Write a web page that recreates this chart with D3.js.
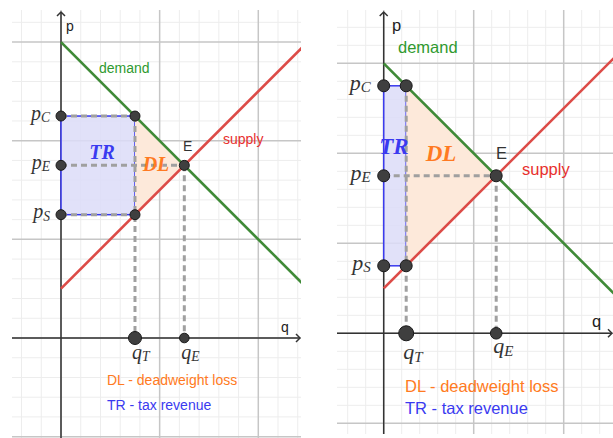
<!DOCTYPE html>
<html>
<head>
<meta charset="utf-8">
<script src="https://cdn.jsdelivr.net/npm/d3@7"></script>
<style>
  body { margin: 0; background: #fff; }
  svg { display: block; }
  text { font-family: "Liberation Sans", Arial, sans-serif; }
  .math { font-family: "Liberation Serif", "Times New Roman", serif; font-style: italic; fill: #333; }
</style>
</head>
<body>
<svg id="chart" width="613" height="438"></svg>
<script>
// lines in grid units: p = intercept + slope * q
const demandLine = [3, -1];
const supplyLine = [0.5, 1];
// quantity traded after the tax, left panel / right panel
const taxQuantities = [0.75, 0.25];
const priceSubs = ["C", "E", "S"];
const quantitySubs = ["T", "E"];
const legendTexts = ["DL - deadweight loss", "TR - tax revenue"];

const colors = {
    demand: "#3f8a37", demandText: "#2f9a2f",
    supply: "#dc4b47", supplyText: "#e8302e",
    tr: "#3a3af0", trFill: "#dcdcf8",
    dl: "#ff7a22", dlFill: "#fde9da",
    dash: "#a0a0a0", point: "#3f3f3f"
};

const panels = [
    { x0: 12, x1: 301, y0: 10, y1: 438, ox: 61, oy: 338, unit: 98.65,
      fs: 14, mfs: 20, tfs: 20, r: 5, rT: 6.5, rE: 4.8, hDash: true,
      demandAt: [99, 73], supplyAt: [223, 144], eAt: [183, 151], pAt: [66, 31], qAt: [281, 332],
      trAt: [102, 159], dlAt: [156, 171], qBase: [359, 359], legendAt: [107, 385, 410] },
    { x0: 337, x1: 613, y0: 10, y1: 434, ox: 383.7, oy: 333.3, unit: 90,
      fs: 16.5, mfs: 22, tfs: 23, r: 6, rT: 7.5, rE: 5.8, hDash: false,
      demandAt: [398, 53], supplyAt: [522, 175], eAt: [496, 159], pAt: [392, 31], qAt: [592, 327],
      trAt: [394, 154], dlAt: [441, 161], qBase: [359, 353], legendAt: [405, 392, 414] }
];

const svg = d3.select("#chart");

const at = (line, q) => line[0] + line[1] * q;

panels.forEach((cfg, i) => {
    const x = d3.scaleLinear().domain([0, 1]).range([cfg.ox, cfg.ox + cfg.unit]);
    const y = d3.scaleLinear().domain([0, 1]).range([cfg.oy, cfg.oy - cfg.unit]);

    const qT = taxQuantities[i];
    const pC = at(demandLine, qT), pS = at(supplyLine, qT);
    const qE = (demandLine[0] - supplyLine[0]) / (supplyLine[1] - demandLine[1]);
    const pE = at(demandLine, qE);

    const clipId = "clip" + i;
    svg.append("clipPath").attr("id", clipId)
        .append("rect")
        .attr("x", cfg.x0).attr("y", cfg.y0)
        .attr("width", cfg.x1 - cfg.x0).attr("height", cfg.y1 - cfg.y0);

    const g = svg.append("g");
    const plot = g.append("g").attr("clip-path", `url(#${clipId})`);

    // grid, minor every 0.2, major every 1
    const step = 0.2;
    const kx = d3.range(Math.ceil(x.invert(cfg.x0) / step), Math.floor(x.invert(cfg.x1) / step) + 1);
    const ky = d3.range(Math.ceil(y.invert(cfg.y1) / step), Math.floor(y.invert(cfg.y0) / step) + 1);
    const grid = plot.append("g");
    [false, true].forEach(major => {
        grid.selectAll(null)
            .data(kx.filter(k => (k % 5 === 0) === major))
            .enter().append("line")
            .attr("x1", k => x(k * step)).attr("x2", k => x(k * step))
            .attr("y1", cfg.y0).attr("y2", cfg.y1)
            .attr("stroke", major ? "#c6c6c6" : "#ededed")
            .attr("stroke-width", major ? 1.5 : 1);
        grid.selectAll(null)
            .data(ky.filter(k => (k % 5 === 0) === major))
            .enter().append("line")
            .attr("y1", k => y(k * step)).attr("y2", k => y(k * step))
            .attr("x1", cfg.x0).attr("x2", cfg.x1)
            .attr("stroke", major ? "#c6c6c6" : "#ededed")
            .attr("stroke-width", major ? 1.5 : 1);
    });

    // axes with open arrow heads
    const axisCol = "#333";
    plot.append("line")
        .attr("x1", cfg.x0).attr("x2", cfg.x1 - 1)
        .attr("y1", y(0)).attr("y2", y(0))
        .attr("stroke", axisCol).attr("stroke-width", 1.5);
    plot.append("line")
        .attr("x1", x(0)).attr("x2", x(0))
        .attr("y1", cfg.y1).attr("y2", cfg.y0 + 2)
        .attr("stroke", axisCol).attr("stroke-width", 1.5);
    plot.append("path")
        .attr("d", `M${cfg.x1 - 5},${y(0) - 4}L${cfg.x1 - 1},${y(0)}L${cfg.x1 - 5},${y(0) + 4}`)
        .attr("fill", "none").attr("stroke", axisCol).attr("stroke-width", 1.5);
    plot.append("path")
        .attr("d", `M${x(0) - 4},${cfg.y0 + 6}L${x(0)},${cfg.y0 + 2}L${x(0) + 4},${cfg.y0 + 6}`)
        .attr("fill", "none").attr("stroke", axisCol).attr("stroke-width", 1.5);

    // tax revenue rectangle and deadweight loss triangle
    plot.append("rect")
        .attr("x", x(0)).attr("y", y(pC))
        .attr("width", x(qT) - x(0)).attr("height", y(pS) - y(pC))
        .attr("fill", colors.trFill).attr("fill-opacity", 0.85)
        .attr("stroke", colors.tr).attr("stroke-width", 1.5);
    plot.append("path")
        .attr("d", d3.line()([[x(qT), y(pC)], [x(qT), y(pS)], [x(qE), y(pE)]]))
        .attr("fill", colors.dlFill);

    // dashed guides
    const dashes = [
        [[qT, pC], [qT, 0]],
        [[0, pE], [qE, pE]],
        [[qE, pE], [qE, 0]]
    ];
    if (cfg.hDash) dashes.push([[0, pC], [qT, pC]], [[0, pS], [qT, pS]]);
    plot.selectAll(null).data(dashes).enter().append("line")
        .attr("x1", d => x(d[0][0])).attr("y1", d => y(d[0][1]))
        .attr("x2", d => x(d[1][0])).attr("y2", d => y(d[1][1]))
        .attr("stroke", colors.dash).attr("stroke-width", 3)
        .attr("stroke-dasharray", "6,4");

    // demand and supply
    const qMax = x.invert(cfg.x1 + 5);
    [[demandLine, colors.demand], [supplyLine, colors.supply]].forEach(([ln, col]) => {
        plot.append("path")
            .attr("d", d3.line().x(d => x(d)).y(d => y(at(ln, d)))([0, qMax]))
            .attr("fill", "none").attr("stroke", col).attr("stroke-width", 2.6);
    });

    // points
    const pts = [
        [0, pC, cfg.r], [qT, pC, cfg.r], [0, pE, cfg.r], [qE, pE, cfg.r],
        [0, pS, cfg.r], [qT, pS, cfg.r], [qT, 0, cfg.rT], [qE, 0, cfg.rE]
    ];
    g.selectAll(null).data(pts).enter().append("circle")
        .attr("cx", d => x(d[0])).attr("cy", d => y(d[1])).attr("r", d => d[2])
        .attr("fill", colors.point).attr("stroke", "#1a1a1a").attr("stroke-width", 1);

    // curve and axis labels
    g.append("text").attr("x", cfg.demandAt[0]).attr("y", cfg.demandAt[1])
        .attr("font-size", cfg.fs).attr("fill", colors.demandText).text("demand");
    g.append("text").attr("x", cfg.supplyAt[0]).attr("y", cfg.supplyAt[1])
        .attr("font-size", cfg.fs).attr("fill", colors.supplyText).text("supply");
    g.append("text").attr("x", cfg.eAt[0]).attr("y", cfg.eAt[1])
        .attr("font-size", cfg.fs).attr("fill", "#333").text("E");
    g.append("text").attr("x", cfg.pAt[0]).attr("y", cfg.pAt[1])
        .attr("font-size", cfg.fs).attr("fill", "#222").text("p");
    g.append("text").attr("x", cfg.qAt[0]).attr("y", cfg.qAt[1])
        .attr("font-size", cfg.fs).attr("fill", "#222").text("q");

    // price labels p_C, p_E, p_S
    [pC, pE, pS].forEach((p, j) => {
        const t = g.append("text").attr("class", "math")
            .attr("x", x(0) - (i === 0 ? 11 : 13)).attr("y", y(p) + cfg.mfs * 0.18)
            .attr("text-anchor", "end").attr("font-size", cfg.mfs);
        t.append("tspan").text("p");
        t.append("tspan").attr("font-size", cfg.mfs * 0.68).attr("dy", cfg.mfs * 0.12).text(priceSubs[j]);
    });

    // quantity labels q_T, q_E
    [qT, qE].forEach((q, j) => {
        const t = g.append("text").attr("class", "math")
            .attr("x", x(q) - 3).attr("y", cfg.qBase[j])
            .attr("font-size", cfg.mfs);
        t.append("tspan").text("q");
        t.append("tspan").attr("font-size", cfg.mfs * 0.68).attr("dy", cfg.mfs * 0.12).text(quantitySubs[j]);
    });

    // area labels
    g.append("text").attr("class", "math").attr("x", cfg.trAt[0]).attr("y", cfg.trAt[1])
        .attr("text-anchor", "middle").attr("font-size", cfg.tfs).attr("font-weight", "bold")
        .style("fill", colors.tr).text("TR");
    g.append("text").attr("class", "math").attr("x", cfg.dlAt[0]).attr("y", cfg.dlAt[1])
        .attr("text-anchor", "middle").attr("font-size", cfg.tfs).attr("font-weight", "bold")
        .style("fill", colors.dl).text("DL");

    // legend
    legendTexts.forEach((txt, j) => {
        g.append("text").attr("x", cfg.legendAt[0]).attr("y", cfg.legendAt[1 + j])
            .attr("font-size", cfg.fs).attr("fill", j === 0 ? colors.dl : colors.tr).text(txt);
    });
});
</script>
</body>
</html>
